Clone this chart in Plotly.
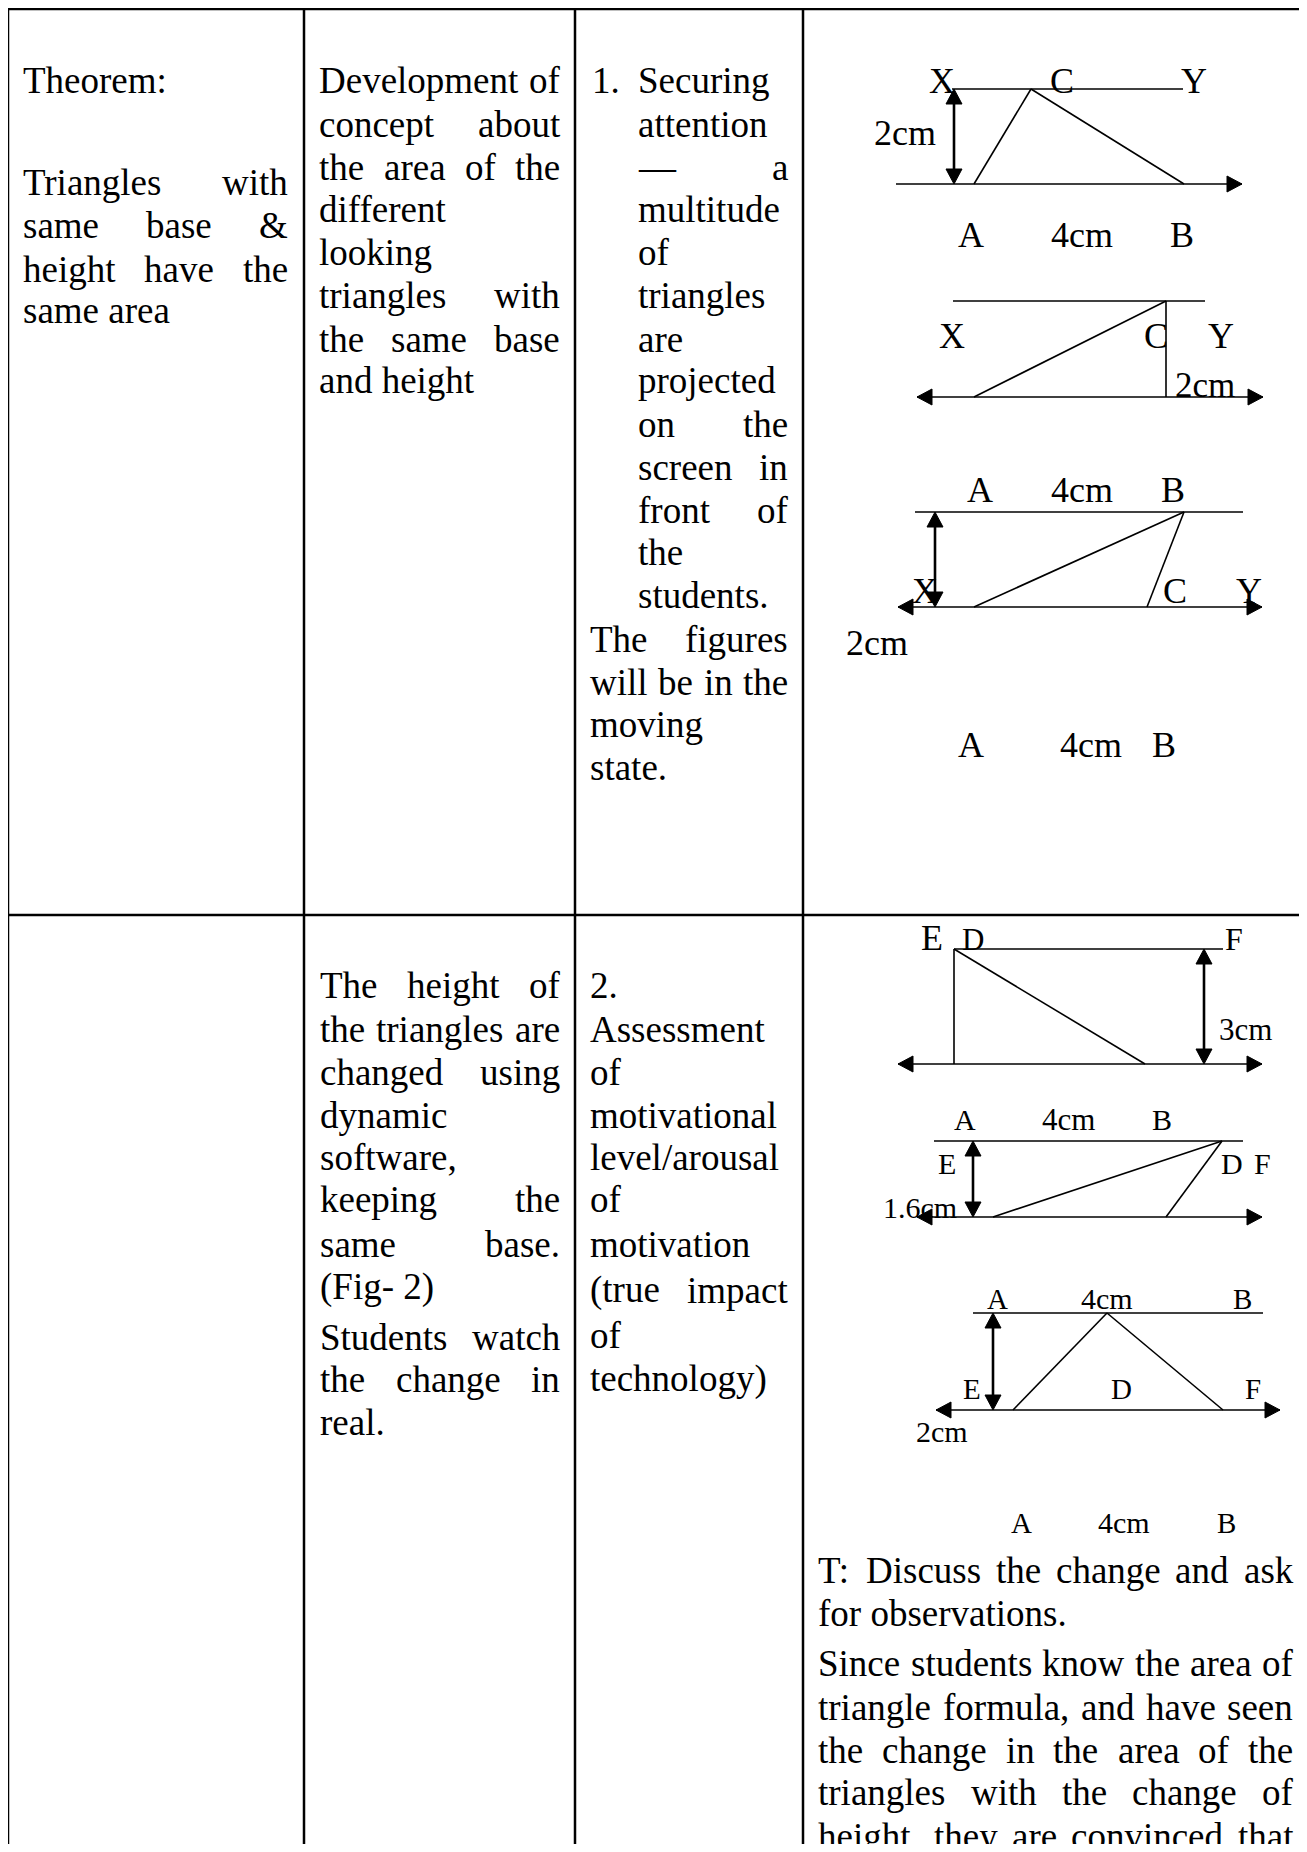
import plotly.graph_objects as go

PAGE_W, PAGE_H = 1307, 1852
BODY_MARGIN = 8          # default <body> margin of the page plotly writes
SERIF = "Liberation Serif, 'Times New Roman', Times, serif"
FS = 37                  # body text size (12pt in the source document)

# ---------------------------------------------------------------- table grid
grid_cols = [8, 304, 575, 803, 1305]
grid_top = 9
grid_row = 915

# ---------------------------------------------------------------- cell texts
theorem_lines = ["Theorem:"]
theorem_base = [93]
theorem_body = ["Triangles with", "same base &", "height have the", "same area"]
theorem_body_base = [195, 238, 282, 323]

concept_lines = ["Development of", "concept about", "the area of the", "different",
                 "looking", "triangles with", "the same base", "and height"]
concept_base = [93, 137, 180, 222, 265, 308, 352, 393]

step1_lines = ["Securing", "attention", "\u2014 a", "multitude", "of", "triangles", "are",
               "projected", "on the", "screen in", "front of", "the", "students."]
step1_base = [93, 137, 180, 222, 265, 308, 352, 393, 437, 480, 523, 565, 608]
moving_lines = ["The figures", "will be in the", "moving", "state."]
moving_base = [652, 695, 737, 780]

height_lines = ["The height of", "the triangles are", "changed using", "dynamic",
                "software,", "keeping the", "same base.", "(Fig- 2)"]
height_base = [998, 1042, 1085, 1128, 1170, 1212, 1257, 1300]
watch_lines = ["Students watch", "the change in", "real."]
watch_base = [1350, 1392, 1435]

step2_lines = ["2.", "Assessment", "of", "motivational", "level/arousal", "of", "motivation"]
step2_base = [998, 1042, 1085, 1128, 1170, 1212, 1257]
impact_lines = ["(true impact", "of", "technology)"]
impact_base = [1303, 1348, 1392]

discuss_lines = ["T: Discuss the change and ask", "for observations."]
discuss_base = [1583, 1626]
since_lines = ["Since students know the area of", "triangle formula, and have seen",
               "the change in the area of the", "triangles with the change of",
               "height, they are convinced that"]
since_base = [1676, 1720, 1763, 1805, 1849]

# ---------------------------------------------------------------- diagrams
# plain segments (x0, y0, x1, y1)
diagram_segments = [
    # fig 1
    (952, 89, 1183, 89), (896, 184, 1242, 184), (974, 184, 1031, 89), (1031, 89, 1184, 184),
    # fig 2
    (953, 301, 1205, 301), (917, 397, 1263, 397), (974, 397, 1166, 301), (1166, 301, 1166, 397),
    # fig 3
    (915, 512, 1243, 512), (898, 607, 1262, 607), (974, 607, 1184, 512), (1184, 512, 1147, 607),
    # fig 4
    (954, 949, 1223, 949), (898, 1064, 1262, 1064), (954, 949, 954, 1064), (954, 949, 1145, 1064),
    # fig 5
    (934, 1141, 1243, 1141), (917, 1217, 1262, 1217), (993, 1217, 1222, 1141), (1222, 1141, 1166, 1217),
    # fig 6
    (973, 1313, 1263, 1313), (936, 1410, 1280, 1410), (1013, 1410, 1107, 1313), (1107, 1313, 1223, 1410),
]
# height markers: vertical double arrows (x, y_top, y_bottom)
height_arrows = [(954, 89, 184), (935, 512, 607), (1204, 949, 1064), (973, 1141, 1217), (993, 1313, 1410)]
# arrow tips on the base lines (x, y, direction)
base_tips = [
    (1242, 184, "r"),
    (917, 397, "l"), (1263, 397, "r"),
    (898, 607, "l"), (1262, 607, "r"),
    (898, 1064, "l"), (1262, 1064, "r"),
    (917, 1217, "l"), (1262, 1217, "r"),
    (936, 1410, "l"), (1280, 1410, "r"),
]
# labels (text, centre x, baseline, size)
diagram_labels = [
    ("X", 942, 93, 36), ("C", 1062, 93, 36), ("Y", 1194, 93, 36), ("2cm", 905, 145, 36),
    ("A", 971, 247, 36), ("4cm", 1082, 247, 36), ("B", 1182, 247, 36),
    ("X", 952, 348, 36), ("C", 1156, 348, 36), ("Y", 1221, 348, 36), ("2cm", 1205, 397, 35),
    ("A", 980, 502, 36), ("4cm", 1082, 502, 36), ("B", 1173, 502, 36),
    ("X", 925, 603, 36), ("C", 1175, 603, 36), ("Y", 1249, 603, 36), ("2cm", 877, 655, 36),
    ("A", 971, 757, 36), ("4cm", 1091, 757, 36), ("B", 1164, 757, 36),
    ("E", 932, 950, 36), ("D", 973, 950, 31), ("F", 1234, 950, 32), ("3cm", 1245, 1040, 31),
    ("A", 965, 1130, 30), ("4cm", 1068, 1130, 31), ("B", 1162, 1130, 30),
    ("E", 947, 1174, 30), ("D", 1232, 1174, 30), ("F", 1262, 1174, 30), ("1.6cm", 920, 1218, 30),
    ("A", 997, 1309, 29), ("4cm", 1107, 1309, 30), ("B", 1242, 1309, 29),
    ("E", 972, 1399, 29), ("D", 1121, 1399, 29), ("F", 1253, 1399, 29), ("2cm", 942, 1442, 30),
    ("A", 1021, 1533, 29), ("4cm", 1124, 1533, 30), ("B", 1226, 1533, 29),
]

# ---------------------------------------------------------------- helpers
_TW = {" ": 250, ".": 250, ",": 250, ":": 278, "/": 278, "-": 333, "(": 333, ")": 333,
       "&": 778, "\u2014": 1000}
_TW.update({d: 500 for d in "0123456789"})
_TW.update(dict(zip("ABCDEFGHIJKLMNOPQRSTUVWXYZ",
                    [722, 667, 667, 722, 611, 556, 722, 722, 333, 389, 722, 611, 889,
                     722, 722, 556, 722, 667, 556, 611, 722, 722, 944, 722, 722, 611])))
_TW.update(dict(zip("abcdefghijklmnopqrstuvwxyz",
                    [444, 500, 444, 500, 444, 333, 500, 500, 278, 278, 500, 278, 778,
                     500, 500, 500, 500, 333, 389, 278, 500, 500, 722, 500, 500, 444])))


def text_w(s, size):
    return sum(_TW.get(c, 500) for c in s) / 1000.0 * size


annotations = []


def add_text(s, x, base, size, anchor="left"):
    annotations.append(dict(
        x=x, y=base - 0.34 * size, xref="x", yref="y",
        text=s.replace("&", "&amp;"), showarrow=False,
        xanchor=anchor, yanchor="middle", borderpad=0, borderwidth=0,
        font=dict(family=SERIF, size=size, color="black"),
    ))


def paragraph(lines, bases, left, right, justify_last=False, size=FS):
    # word-by-word placement to mimic justified text
    for i, (line, base) in enumerate(zip(lines, bases)):
        words = line.split(" ")
        is_last = i == len(lines) - 1 and not justify_last
        if len(words) == 1 or is_last:
            add_text(line, left, base, size)
            continue
        widths = [text_w(w, size) for w in words]
        gap = (right - left - sum(widths)) / (len(words) - 1)
        x = left
        for w, wd in zip(words, widths):
            add_text(w, x, base, size)
            x += wd + gap


def seg_xy(segs):
    xs, ys = [], []
    for x0, y0, x1, y1 in segs:
        xs += [x0, x1, None]
        ys += [y0, y1, None]
    return xs, ys


def head(tx, ty, d, length=15, half=8):
    if d == "r":
        return [tx, tx - length, tx - length, tx], [ty, ty - half, ty + half, ty]
    if d == "l":
        return [tx, tx + length, tx + length, tx], [ty, ty - half, ty + half, ty]
    if d == "u":
        return [tx, tx - half, tx + half, tx], [ty, ty + length, ty + length, ty]
    return [tx, tx - half, tx + half, tx], [ty, ty - length, ty - length, ty]


# ---------------------------------------------------------------- figure
fig = go.Figure()

# table borders
grid = [(grid_cols[0], grid_top, grid_cols[-1], grid_top),
        (grid_cols[0], grid_row, grid_cols[-1], grid_row)]
grid += [(c, grid_top, c, PAGE_H) for c in grid_cols]
gx, gy = seg_xy(grid)
fig.add_trace(go.Scatter(x=gx, y=gy, mode="lines", line=dict(color="black", width=2.5),
                         hoverinfo="skip"))

# diagram lines
dx, dy = seg_xy(diagram_segments)
fig.add_trace(go.Scatter(x=dx, y=dy, mode="lines", line=dict(color="black", width=1.6),
                         hoverinfo="skip"))

# height markers
hx, hy = seg_xy([(x, t + 6, x, b - 6) for x, t, b in height_arrows])
fig.add_trace(go.Scatter(x=hx, y=hy, mode="lines", line=dict(color="black", width=2.6),
                         hoverinfo="skip"))

# arrow heads
ax, ay = [], []
tips = list(base_tips)
for x, t, b in height_arrows:
    tips += [(x, t, "u"), (x, b, "d")]
for tx, ty, d in tips:
    px, py = head(tx, ty, d)
    ax += px + [None]
    ay += py + [None]
fig.add_trace(go.Scatter(x=ax, y=ay, mode="lines", fill="toself", fillcolor="black",
                         line=dict(color="black", width=1), hoverinfo="skip"))

# cell texts
paragraph(theorem_lines, theorem_base, 23, 288)
paragraph(theorem_body, theorem_body_base, 23, 288)
paragraph(concept_lines, concept_base, 319, 560)
add_text("1.", 592, step1_base[0], FS)
paragraph(step1_lines, step1_base, 638, 788)
paragraph(moving_lines, moving_base, 590, 788)
paragraph(height_lines, height_base, 320, 560)
paragraph(watch_lines, watch_base, 320, 560)
paragraph(step2_lines, step2_base, 590, 788)
paragraph(impact_lines, impact_base, 590, 788)
paragraph(discuss_lines, discuss_base, 818, 1293)
paragraph(since_lines, since_base, 818, 1293, justify_last=True)

for s, cx, base, size in diagram_labels:
    add_text(s, cx, base, size, anchor="center")

fig_w = PAGE_W - 2 * BODY_MARGIN
fig_h = PAGE_H - 2 * BODY_MARGIN
fig.update_layout(
    width=fig_w, height=fig_h, autosize=False,
    margin=dict(l=0, r=0, t=0, b=0, pad=0),
    paper_bgcolor="white", plot_bgcolor="white",
    showlegend=False,
    xaxis=dict(range=[BODY_MARGIN, BODY_MARGIN + fig_w], visible=False, fixedrange=True),
    yaxis=dict(range=[BODY_MARGIN + fig_h, BODY_MARGIN], visible=False, fixedrange=True),
    annotations=annotations,
)

fig.write_html("out.html")
